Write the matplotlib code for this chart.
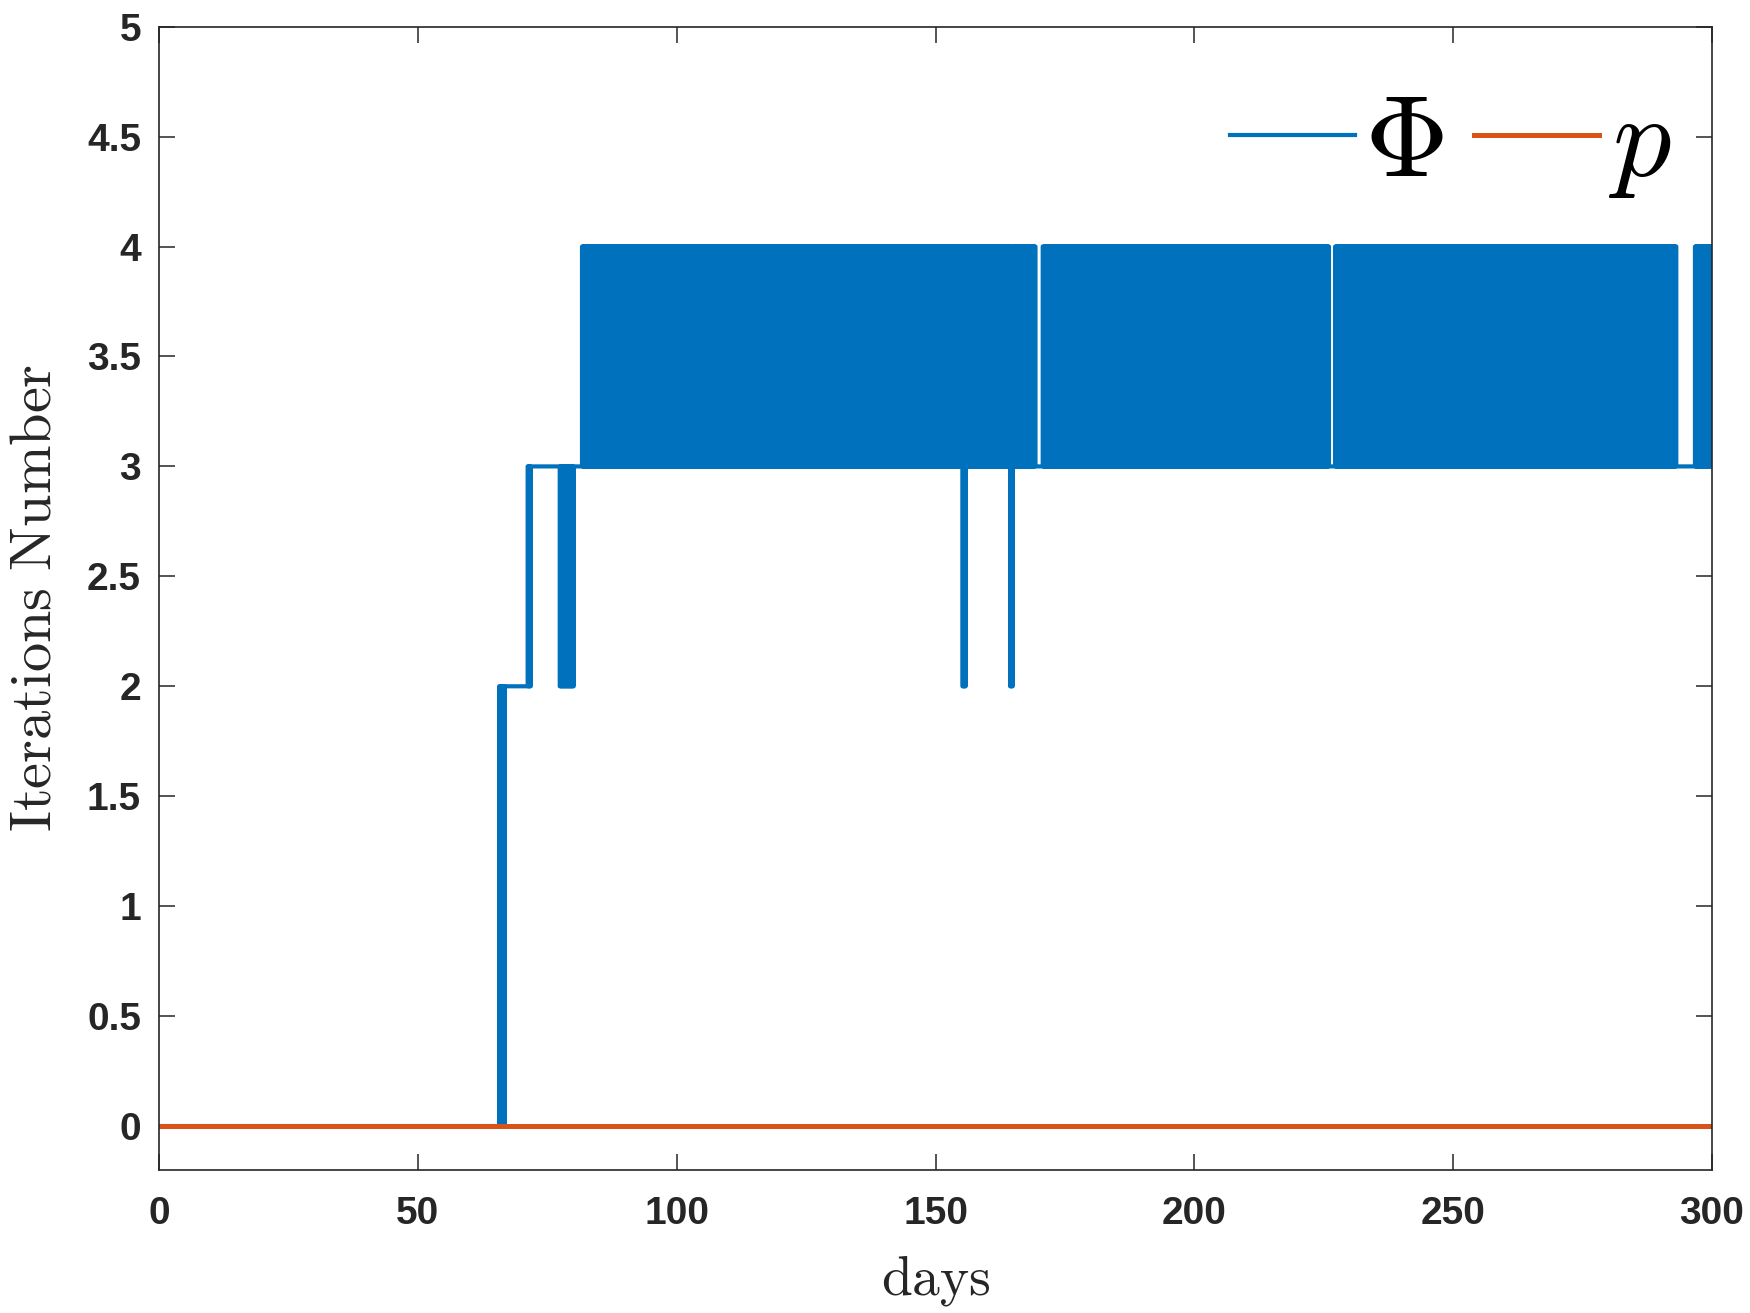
import numpy as np
import matplotlib
matplotlib.use("Agg")
import matplotlib.pyplot as plt

# ---- data ----
# Phi iteration count as runs: [start_day, end_day, low, high];
# inside a run the value switches between low and high every sample step.
run_start = [0.0, 65.6, 66.8, 71.1, 71.8, 77.4, 80.1, 81.6, 155.2, 155.8, 164.4, 164.9, 169.4, 170.6, 226.1, 227.1, 293.2, 296.6]
run_end   = [65.6, 66.8, 71.1, 71.8, 77.4, 80.1, 81.6, 155.2, 155.8, 164.4, 164.9, 169.4, 170.6, 226.1, 227.1, 293.2, 296.6, 300.0]
run_low   = [0, 0, 2, 2, 3, 2, 3, 3, 2, 3, 2, 3, 3, 3, 3, 3, 3, 3]
run_high  = [0, 2, 2, 3, 3, 3, 3, 4, 4, 4, 4, 4, 3, 4, 3, 4, 3, 4]
sample_step = 0.1  # days between samples

p_days = [0.0, 300.0]
p_values = [0.0, 0.0]

x_ticks = [0, 50, 100, 150, 200, 250, 300]
x_ticklabels = ["0", "50", "100", "150", "200", "250", "300"]
y_ticks = [0, 0.5, 1, 1.5, 2, 2.5, 3, 3.5, 4, 4.5, 5]
y_ticklabels = ["0", "0.5", "1", "1.5", "2", "2.5", "3", "3.5", "4", "4.5", "5"]

# expand runs into a sampled series
t_list, v_list = [], []
for s, e, lo, hi in zip(run_start, run_end, run_low, run_high):
    if lo == hi:
        t_list.append(np.array([s]))
        v_list.append(np.array([lo], dtype=float))
    else:
        t = np.arange(s, e, sample_step)
        v = np.where(np.arange(len(t)) % 2 == 0, lo, hi).astype(float)
        t_list.append(t)
        v_list.append(v)
t_list.append(np.array([run_end[-1]]))
v_list.append(np.array([run_high[-1]], dtype=float))
phi_t = np.concatenate(t_list)
phi_v = np.concatenate(v_list)

plt.rcParams["mathtext.fontset"] = "cm"
axcol = "#262626"

fig = plt.figure(figsize=(17.5, 13.13), dpi=100)
ax = fig.add_axes([0.0909, 0.1089, 0.8874, 0.8708])

ax.plot(phi_t, phi_v, color="#0072BD", lw=3.0, drawstyle="steps-post", label=r"$\Phi$")
ax.plot(p_days, p_values, color="#D95319", lw=3.6, label=r"$p$")

ax.set_xlim(0, 300)
ax.set_ylim(-0.2, 5)
ax.set_xticks(x_ticks)
ax.set_xticklabels(x_ticklabels)
ax.set_yticks(y_ticks)
ax.set_yticklabels(y_ticklabels)

for lab in ax.get_xticklabels() + ax.get_yticklabels():
    lab.set_fontfamily("Liberation Sans")
    lab.set_fontweight("bold")
    lab.set_fontsize(28)
    lab.set_color(axcol)

ax.tick_params(axis="both", direction="in", length=11.5, width=1.1, color=axcol,
               top=True, right=True)
ax.tick_params(axis="x", pad=19)
ax.tick_params(axis="y", pad=13)
for sp in ax.spines.values():
    sp.set_color(axcol)
    sp.set_linewidth(1.2)

ax.set_xlabel(r"$\mathrm{days}$", fontsize=40, color=axcol)
ax.set_ylabel(r"$\mathrm{Iterations\ Number}$", fontsize=42, color=axcol)
ax.xaxis.set_label_coords(0.5, -0.073)
ax.yaxis.set_label_coords(-0.0625, 0.5)

leg = ax.legend(loc="upper right", bbox_to_anchor=(0.974, 0.948), ncol=2, frameon=False,
                fontsize=84, handlelength=1.07, handletextpad=0.08, columnspacing=0.26,
                borderaxespad=0.0, borderpad=0.0)

fig.savefig("out.png", dpi=100)
